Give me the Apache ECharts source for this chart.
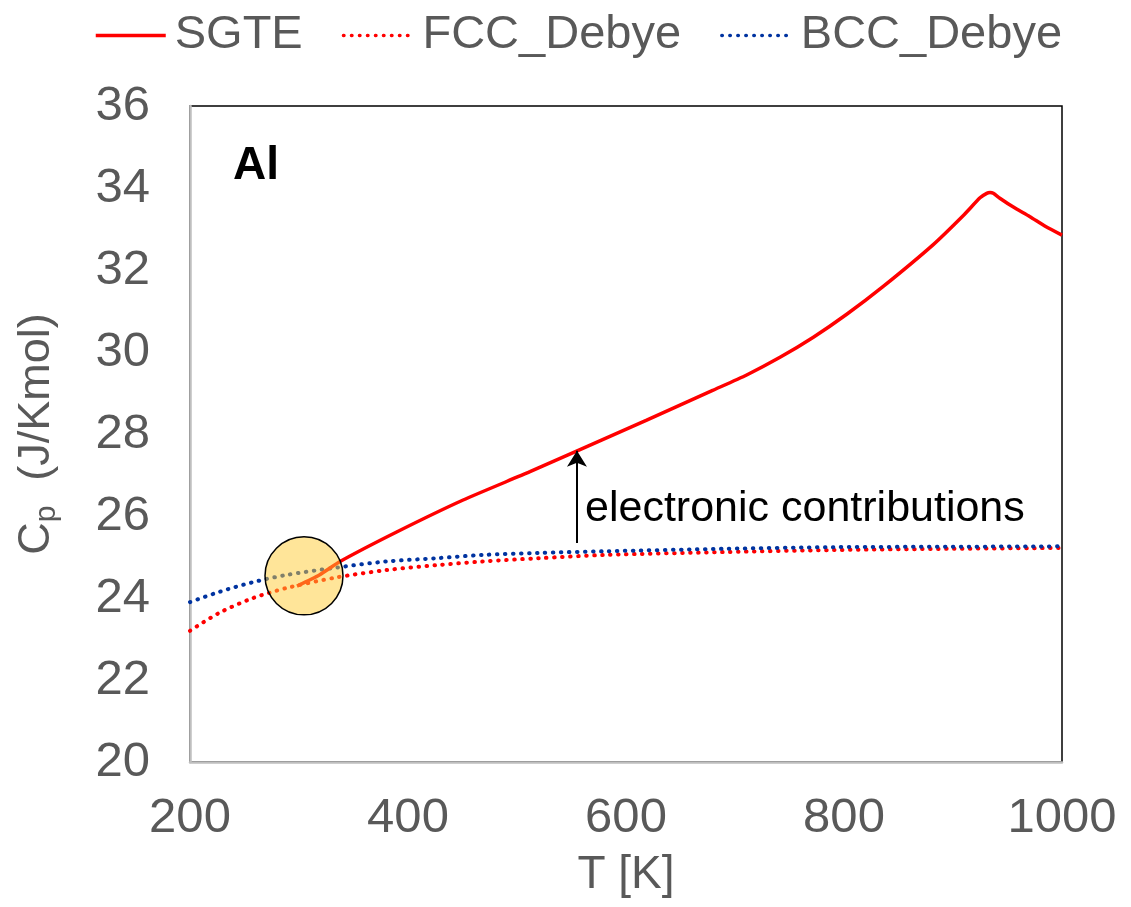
<!DOCTYPE html>
<html>
<head>
<meta charset="utf-8">
<script src="https://cdn.jsdelivr.net/npm/echarts@6/dist/echarts.min.js"></script>
<style>
  html, body { margin: 0; padding: 0; background: #fff; }
  #chart { width: 1131px; height: 907px; }
</style>
</head>
<body>
<div id="chart"></div>
<script>
// Heat capacity of Al: SGTE assessment vs. Debye-model estimates
const T_SGTE = [298.15, 318.7, 337.6, 389.6, 450.6, 511.9, 557.8, 619, 680, 710.7, 741.3, 771.9, 802.5, 836, 881.9, 909.5, 924.8, 930.9, 934, 937, 943, 955, 970.6, 985, 1000];
const CP_SGTE = [24.29, 24.56, 24.89, 25.61, 26.39, 27.08, 27.62, 28.34, 29.07, 29.44, 29.87, 30.36, 30.92, 31.60, 32.62, 33.33, 33.76, 33.87, 33.89, 33.87, 33.75, 33.54, 33.30, 33.06, 32.85];

const T_DEBYE = [200, 227, 257, 288, 334, 380, 426, 468, 520, 581, 690, 790, 900, 1000];
const CP_FCC = [23.2, 23.64, 23.99, 24.24, 24.50, 24.68, 24.80, 24.89, 24.97, 25.05, 25.12, 25.17, 25.20, 25.22];
const CP_BCC = [23.9, 24.15, 24.38, 24.56, 24.74, 24.89, 24.97, 25.05, 25.10, 25.14, 25.20, 25.24, 25.25, 25.26];

// highlighted start of the SGTE curve
const HIGHLIGHT = [304.6, 24.54];
// arrow marking the electronic contribution
const ARROW_T = 555;
const ARROW_FROM = 25.34;
const ARROW_TO = 27.59;

const X_TICKS = { min: 200, max: 1000, interval: 200 };
const Y_TICKS = { min: 20, max: 36, interval: 2 };

const FONT = '"Liberation Sans", Arial, sans-serif';
const GREY_TEXT = '#595959';
const RED = '#ff0000';
const BLUE = '#0033a0';
const DOTS = [0.5, 7.5];

const zip = (xs, ys) => xs.map((x, i) => [x, ys[i]]);

const chart = echarts.init(document.getElementById('chart'), null, { renderer: 'canvas' });

chart.setOption({
  animation: false,
  textStyle: { fontFamily: FONT },
  grid: {
    left: 190, top: 106, right: 69, bottom: 145,
    show: true, borderColor: '#000', borderWidth: 1.5, backgroundColor: '#fff'
  },
  title: {
    text: 'Al', left: 228, top: 138,
    textStyle: { fontFamily: FONT, fontSize: 46, fontWeight: 'bold', color: '#000' }
  },
  legend: {
    left: 89, top: 7,
    data: [
      { name: 'SGTE', lineStyle: { width: 3.5, color: RED, type: 'solid' } },
      { name: 'FCC_Debye', lineStyle: { width: 3.5, color: RED, type: DOTS, cap: 'round' } },
      { name: 'BCC_Debye', lineStyle: { width: 3.5, color: BLUE, type: DOTS, cap: 'round' } }
    ],
    itemWidth: 70, itemHeight: 20, itemGap: 39,
    itemStyle: { opacity: 0 },
    textStyle: { fontFamily: FONT, fontSize: 47, color: GREY_TEXT, padding: [0, 0, 0, 4] }
  },
  xAxis: {
    type: 'value', min: X_TICKS.min, max: X_TICKS.max, interval: X_TICKS.interval,
    name: 'T [K]', nameLocation: 'middle', nameGap: 90,
    nameTextStyle: { fontFamily: FONT, fontSize: 46, color: GREY_TEXT },
    axisLine: { show: true, lineStyle: { color: '#bfbfbf', width: 2.5 } },
    axisTick: { show: false },
    splitLine: { show: false },
    axisLabel: {
      fontFamily: FONT, fontSize: 49, color: GREY_TEXT, margin: 32,
      showMinLabel: true, showMaxLabel: true,
      formatter: v => String(v)
    }
  },
  yAxis: {
    type: 'value', min: Y_TICKS.min, max: Y_TICKS.max, interval: Y_TICKS.interval,
    name: '{c|C}{p|p}{r|  (J/Kmol)}', nameLocation: 'middle', nameGap: 128, nameRotate: 90,
    nameTextStyle: {
      rich: {
        c: { fontFamily: FONT, fontSize: 45, color: GREY_TEXT, lineHeight: 50 },
        p: { fontFamily: FONT, fontSize: 30, color: GREY_TEXT, lineHeight: 14, verticalAlign: 'bottom' },
        r: { fontFamily: FONT, fontSize: 45, color: GREY_TEXT, lineHeight: 50 }
      }
    },
    axisLine: { show: true, lineStyle: { color: '#bfbfbf', width: 2.5 } },
    axisTick: { show: false },
    splitLine: { show: false },
    axisLabel: { fontFamily: FONT, fontSize: 49, color: GREY_TEXT, margin: 40, formatter: v => String(v) }
  },
  graphic: [{
    type: 'text', left: 585, top: 488, silent: true,
    style: { text: 'electronic contributions', font: '43px ' + FONT, fill: '#000' }
  }],
  series: [
    {
      name: 'FCC_Debye', type: 'line', data: zip(T_DEBYE, CP_FCC),
      showSymbol: false, symbol: 'none', smooth: 0.3, z: 2,
      lineStyle: { color: RED, width: 4, type: DOTS, cap: 'round' },
      itemStyle: { color: RED }
    },
    {
      name: 'BCC_Debye', type: 'line', data: zip(T_DEBYE, CP_BCC),
      showSymbol: false, symbol: 'none', smooth: 0.3, z: 2,
      lineStyle: { color: BLUE, width: 4, type: DOTS, cap: 'round' },
      itemStyle: { color: BLUE }
    },
    {
      name: 'SGTE', type: 'line', data: zip(T_SGTE, CP_SGTE),
      showSymbol: false, symbol: 'none', smooth: 0.2, z: 3,
      lineStyle: { color: RED, width: 3.5 },
      itemStyle: { color: RED },
      markLine: {
        silent: true, symbol: ['none', 'arrow'], symbolSize: [15, 16],
        label: { show: false },
        lineStyle: { color: '#000', width: 2, type: 'solid' },
        data: [[{ coord: [ARROW_T, ARROW_FROM] }, { coord: [ARROW_T, ARROW_TO] }]]
      }
    },
    {
      name: 'highlight', type: 'scatter', data: [HIGHLIGHT],
      symbol: 'circle', symbolSize: 78, silent: true, z: 5,
      itemStyle: { color: 'rgba(255, 204, 51, 0.5)', borderColor: '#000', borderWidth: 1.5, opacity: 1 }
    }
  ]
});
</script>
</body>
</html>
